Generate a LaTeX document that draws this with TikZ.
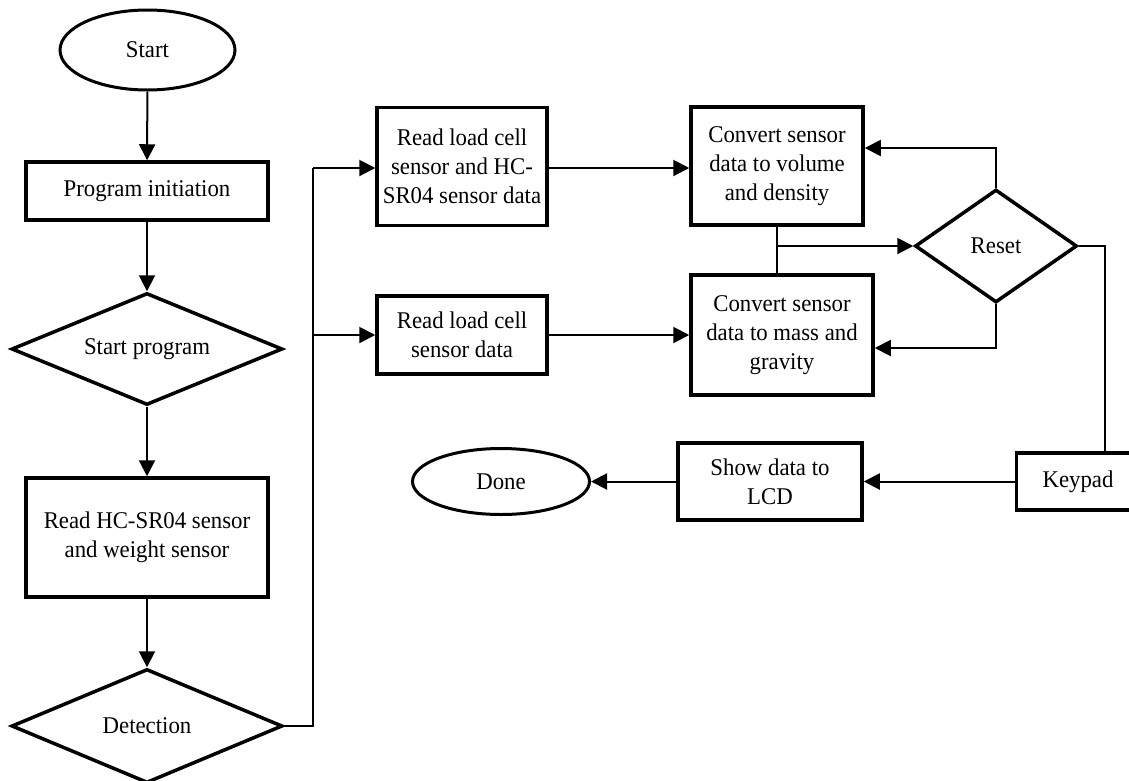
\documentclass[tikz,border=0pt]{standalone}
\usepackage{fontspec}
\setmainfont{Liberation Serif}[FakeStretch=0.95]
\usetikzlibrary{shapes.geometric,arrows.meta}
\begin{document}
\begin{tikzpicture}[x=1pt,y=-1pt,
  every node/.style={font=\fontsize{24}{29}\selectfont, align=center, inner sep=0pt},
  box/.style={draw, rectangle, line width=3.5pt},
  dia/.style={draw, diamond, line width=3.5pt},
  term/.style={draw, ellipse, line width=3pt},
  conn/.style={line width=2pt, -{Triangle[length=16pt,width=16pt]}},
  plain/.style={line width=2pt}
]
\clip (0,0) rectangle (1129,780);
\fill[white] (0,0) rectangle (1129,780);

\node[term, minimum width=175, minimum height=80] (start) at (147.5,50) {Start};
\node[box, minimum width=242, minimum height=58] (prog) at (147,191) {Program initiation};
\node[dia, shape aspect=2.4, minimum width=271, minimum height=112] (startp) at (147,349) {Start program};
\node[box, minimum width=242, minimum height=119] (readhc) at (147,537.5) {Read HC-SR04 sensor\\and weight sensor};
\node[dia, shape aspect=2.4, minimum width=271, minimum height=114] (detect) at (147,726) {Detection};

\node[box, minimum width=170, minimum height=118] (rl1) at (462,166.5) {Read load cell\\sensor and HC-\\SR04 sensor data};
\node[box, minimum width=170, minimum height=78] (rl2) at (462,335) {Read load cell\\sensor data};
\node[box, minimum width=172, minimum height=118] (cv) at (777,166) {Convert sensor\\data to volume\\and density};
\node[box, minimum width=182, minimum height=120] (cm) at (782,335) {Convert sensor\\data to mass and\\gravity};
\node[dia, shape aspect=1.43, minimum width=162, minimum height=113] (reset) at (996,246) {Reset};

\node[box, minimum width=123, minimum height=57] (keypad) at (1078,481.5) {Keypad};
\node[box, minimum width=184, minimum height=77] (show) at (770,481.5) {Show data to\\LCD};
\node[term, minimum width=177, minimum height=66] (done) at (501,481.5) {Done};

\coordinate (j1) at (313,168);
\coordinate (j2) at (313,335);
\coordinate (ra) at (996,148);
\coordinate (rb) at (996,348);
\coordinate (rc) at (1105,246);

\draw[conn] (start) -- (prog);
\draw[conn] (prog) -- (startp);
\draw[conn] (startp) -- (readhc);
\draw[conn] (readhc) -- (detect);

\draw[plain] (detect.east) -| (j1);
\draw[conn] (j1) -- (rl1.west |- j1);
\draw[conn] (j2) -- (rl2.west |- j2);
\draw[conn] (rl1.east |- j1) -- (cv.west |- j1);
\draw[conn] (rl2.east |- j2) -- (cm.west |- j2);

\draw[plain] (cv.south) -- (cv.south |- cm.north);
\draw[conn] (cv.south |- reset.west) -- (reset.west);
\draw[conn] (reset.north) |- (ra) -- (cv.east |- ra);
\draw[conn] (reset.south) |- (rb) -- (cm.east |- rb);
\draw[plain] (reset.east) -- (rc) -- (rc |- keypad.north);

\draw[conn] (keypad.west) -- (show.east);
\draw[conn] (show.west) -- (done.east);
\end{tikzpicture}
\end{document}
